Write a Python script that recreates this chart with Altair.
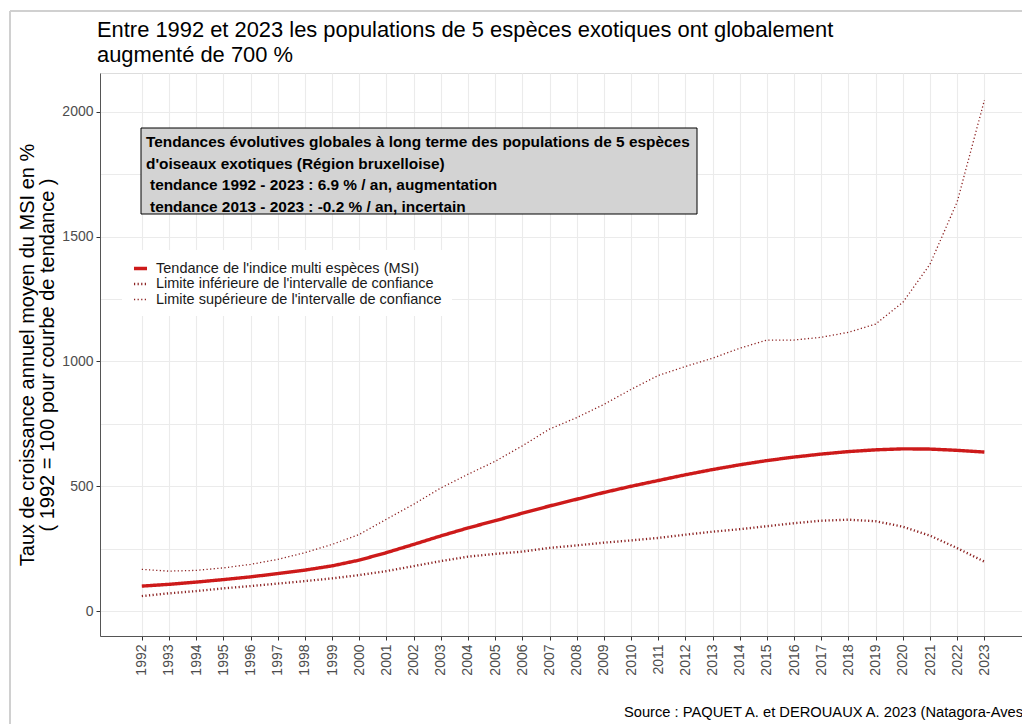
import altair as alt
import pandas as pd

years = list(range(1992, 2024))

msi = [100, 107, 116, 126, 137, 150, 164, 181, 204, 234, 267, 301, 333, 362, 392, 421,
       448, 475, 500, 523, 546, 567, 586, 603, 617, 629, 639, 646, 650, 649, 644, 637]
upper = [167, 160, 163, 173, 187, 207, 234, 267, 307, 368, 428, 493, 548, 600, 662, 729,
         775, 828, 888, 944, 980, 1013, 1053, 1086, 1086, 1097, 1117, 1150, 1237, 1390, 1640, 2047]
lower = [60, 71, 80, 91, 100, 110, 120, 131, 144, 160, 180, 200, 218, 229, 238, 253,
         263, 274, 283, 293, 306, 318, 328, 340, 352, 362, 366, 360, 338, 302, 252, 198]

series_names = [
    "Tendance de l'indice multi espèces (MSI)",
    "Limite inférieure de l'intervalle de confiance",
    "Limite supérieure de l'intervalle de confiance",
]
series_colors = ["#cd1a1a", "#8b2020", "#8b2020"]
series_dash = [[1, 0], [1.2, 2.4], [1.2, 2.4]]
series_widths = [3.4, 1.3, 1.3]

title_lines = ["Entre 1992 et 2023 les populations de 5 espèces exotiques ont globalement",
               "augmenté de 700 %"]
box_lines = [
    "Tendances évolutives globales à long terme des populations de 5 espèces",
    "d'oiseaux exotiques (Région bruxelloise)",
    " tendance 1992 - 2023 : 6.9 % / an, augmentation",
    " tendance 2013 - 2023 : -0.2 % / an, incertain",
]
y_title = ["Taux de croissance annuel moyen du MSI en %", "( 1992 = 100 pour courbe de tendance )"]
caption = "Source : PAQUET A. et DEROUAUX A. 2023 (Natagora-Aves)"
y_ticks = [0, 250, 500, 750, 1000, 1250, 1500, 1750, 2000]

FONT = "Liberation Sans"
W, H = 922, 563

rows = []
for name, vals in zip(series_names, [msi, lower, upper]):
    for yr, v in zip(years, vals):
        rows.append({"annee": yr, "valeur": v, "serie": name})
df = pd.DataFrame(rows)

xscale = alt.Scale(domain=[1990.462, 2024.384], nice=False, zero=False)
yscale = alt.Scale(domain=[-100, 2156], nice=False, zero=False)

lines = alt.Chart(df).mark_line(clip=True).encode(
    x=alt.X("annee:Q", scale=xscale, title=None,
            axis=alt.Axis(values=years, format="d", labelAngle=270, labelFontSize=14,
                          labelColor="#4d4d4d", labelFont=FONT, labelPadding=4,
                          tickColor="#333333", tickSize=4, domainColor="#555555",
                          gridColor="#ebebeb", gridWidth=1.1, labelOverlap=False,
                          labelFlush=False)),
    y=alt.Y("valeur:Q", scale=yscale,
            axis=alt.Axis(values=y_ticks, format="d", title=y_title, titleFontSize=20,
                          titleFont=FONT, titleColor="#000000", titleFontWeight="normal",
                          titlePadding=4, titleLineHeight=20,
                          labelExpr="datum.value % 500 === 0 ? datum.label : ''",
                          labelFontSize=14, labelColor="#4d4d4d", labelFont=FONT,
                          tickColor="#333333", tickSize=4, domainColor="#555555",
                          tickOpacity={"condition": {"test": "datum.value % 500 === 0", "value": 1}, "value": 0},
                          gridColor="#ebebeb", gridWidth=1.1, labelPadding=3)),
    color=alt.Color("serie:N", title=None,
                    scale=alt.Scale(domain=series_names, range=series_colors),
                    legend=alt.Legend(orient="none", legendX=22, legendY=177,
                                      fillColor="white", padding=10,
                                      symbolType="stroke", symbolSize=170,
                                      labelFont=FONT, labelFontSize=14.5, labelColor="#1a1a1a",
                                      labelOffset=7, rowPadding=0, labelLimit=500)),
    strokeDash=alt.StrokeDash("serie:N", title=None,
                              scale=alt.Scale(domain=series_names, range=series_dash)),
    strokeWidth=alt.StrokeWidth("serie:N", title=None,
                                scale=alt.Scale(domain=series_names, range=series_widths)),
)

box_df = pd.DataFrame({"t": [0]})
box = alt.Chart(box_df).mark_rect(fill="#d3d3d3", stroke="#000000", strokeWidth=1).encode(
    x=alt.value(41), x2=alt.value(597), y=alt.value(55), y2=alt.value(141)
)

box_texts = []
for i, ln in enumerate(box_lines):
    xoff = 50 if ln.startswith(" ") else 46
    box_texts.append(
        alt.Chart(pd.DataFrame({"txt": [ln]})).mark_text(
            align="left", baseline="middle", font=FONT, fontSize=15.4, fontWeight="bold",
            color="#000000"
        ).encode(x=alt.value(xoff), y=alt.value(69 + i * 21.7), text="txt:N")
    )

title_texts = []
for i, ln in enumerate(title_lines):
    title_texts.append(
        alt.Chart(pd.DataFrame({"txt": [ln]})).mark_text(
            align="left", baseline="middle", font=FONT, fontSize=21.9, color="#000000"
        ).encode(x=alt.value(-3), y=alt.value(-43 + i * 25), text="txt:N")
    )

cap = alt.Chart(pd.DataFrame({"txt": [caption]})).mark_text(
    align="right", baseline="middle", font=FONT, fontSize=14.7, color="#000000"
).encode(x=alt.value(W + 6), y=alt.value(640), text="txt:N")

frame_left = alt.Chart(box_df).mark_rule(color="#d0d0d0", strokeWidth=2).encode(
    x=alt.value(-90), y=alt.value(-62), y2=alt.value(H + 90)
)
frame_top = alt.Chart(box_df).mark_rule(color="#d0d0d0", strokeWidth=2).encode(
    x=alt.value(-90), x2=alt.value(W + 10), y=alt.value(-62)
)

chart = alt.layer(frame_left, frame_top, lines, box, *box_texts, *title_texts, cap).properties(
    width=W, height=H,
    autosize=alt.AutoSizeParams(type="none"),
    padding={"left": 100, "top": 73, "right": 0, "bottom": 88},
).configure_view(stroke=None).configure(background="white")

chart.save("out.html", embed_options={"renderer": "svg", "actions": False})
